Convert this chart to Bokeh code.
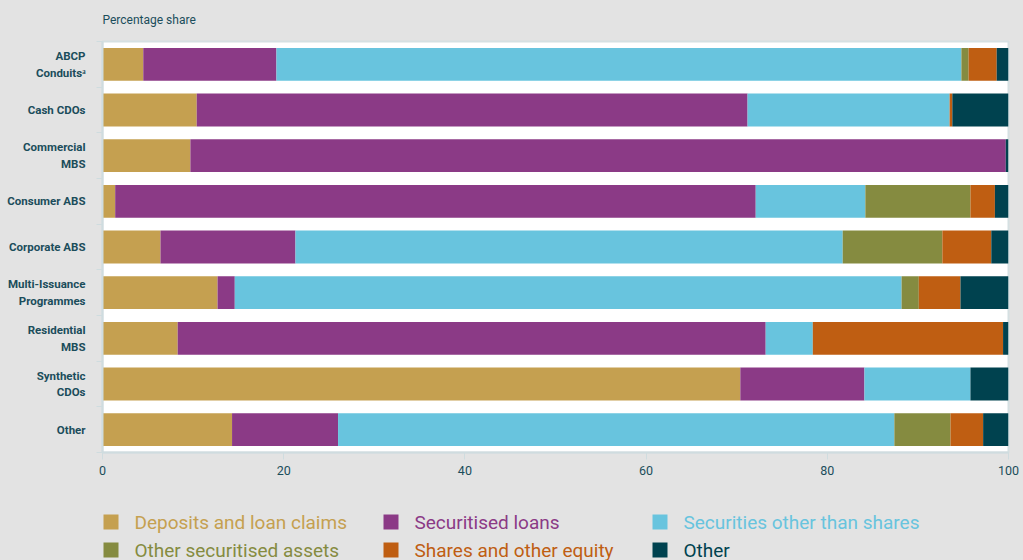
from bokeh.plotting import figure
from bokeh.models import ColumnDataSource, Range1d, FixedTicker
from bokeh.core.properties import value
from bokeh.layouts import column
from bokeh.embed import file_html
from bokeh.resources import INLINE

categories = ["ABCP\nConduits\u1d43", "Cash CDOs", "Commercial\nMBS", "Consumer ABS",
              "Corporate ABS", "Multi-Issuance\nProgrammes", "Residential\nMBS",
              "Synthetic\nCDOs", "Other"]

series = ["Deposits and loan claims", "Securitised loans", "Securities other than shares",
          "Other securitised assets", "Shares and other equity", "Other"]

deposits   = [4.5, 10.4, 9.7, 1.4, 6.4, 12.7, 8.3, 70.4, 14.3]
sec_loans  = [14.7, 60.8, 90.0, 70.7, 14.9, 1.9, 64.9, 13.7, 11.7]
securities = [75.6, 22.3, 0.0, 12.1, 60.4, 73.6, 5.2, 11.7, 61.4]
other_sec  = [0.8, 0.0, 0.0, 11.6, 11.0, 1.9, 0.0, 0.0, 6.2]
shares     = [3.1, 0.3, 0.0, 2.7, 5.4, 4.6, 21.0, 0.0, 3.6]
other      = [1.3, 6.2, 0.3, 1.5, 1.9, 5.3, 0.6, 4.2, 2.8]

colors = ["#c5a050", "#8b3a86", "#68c4de", "#858b40", "#bf5e12", "#00424f"]

x_ticks = [0, 20, 40, 60, 80, 100]

TEXT = "#1b4d5b"
LIGHT = "#cfdcdf"
BG = "#e3e3e3"
FONT = "Roboto"

keys = ["s0", "s1", "s2", "s3", "s4", "s5"]
n = len(categories)
data = dict(y=list(range(n)))
for k, vals in zip(keys, [deposits, sec_loans, securities, other_sec, shares, other]):
    data[k] = vals
source = ColumnDataSource(data)

BL, BR = 102, 15

p = figure(width=1023, height=488, x_range=Range1d(0, 100), y_range=Range1d(n - 0.5, -0.5),
           output_backend="svg", toolbar_location=None,
           min_border_left=BL, min_border_right=BR, min_border_top=41, min_border_bottom=36,
           background_fill_color="white", border_fill_color=BG,
           outline_line_color="#d5e0e2", outline_line_width=2)

p.hbar_stack(keys, y="y", height=0.72, color=colors, line_color=None, source=source)

p.title.text = "Percentage share"
p.title.align = "left"
p.title.vertical_align = "top"
p.title.text_font = FONT
p.title.text_font_size = "12px"
p.title.text_font_style = "normal"
p.title.text_color = TEXT
p.title.standoff = 25

p.xgrid.visible = False
p.ygrid.visible = False

xa = p.xaxis[0]
xa.ticker = FixedTicker(ticks=x_ticks)
xa.axis_line_color = LIGHT
xa.axis_line_width = 2
xa.major_tick_line_color = LIGHT
xa.major_tick_out = 7
xa.major_tick_in = 0
xa.minor_tick_line_color = None
xa.major_label_text_color = TEXT
xa.major_label_text_font = FONT
xa.major_label_text_font_size = "12.5px"
xa.major_label_standoff = 6

ya = p.yaxis[0]
ya.ticker = FixedTicker(ticks=list(range(n)), minor_ticks=[i - 0.5 for i in range(n + 1)])
ya.major_label_overrides = {i: c for i, c in enumerate(categories)}
ya.axis_line_color = LIGHT
ya.axis_line_width = 2
ya.major_tick_line_color = None
ya.major_tick_out = 0
ya.major_tick_in = 0
ya.minor_tick_line_color = LIGHT
ya.minor_tick_out = 6
ya.minor_tick_in = 0
ya.major_label_text_color = TEXT
ya.major_label_text_font = FONT
ya.major_label_text_font_size = "11.5px"
ya.major_label_text_font_style = "bold"
ya.major_label_standoff = 11

# legend strip (page-pixel coordinates, frame aligned with the main plot)
LW, LH = 1023, 72
lf = figure(width=LW, height=LH, x_range=Range1d(BL, LW - BR), y_range=Range1d(LH, 0),
            output_backend="svg", toolbar_location=None,
            min_border_left=BL, min_border_right=BR, min_border_top=0, min_border_bottom=0,
            background_fill_alpha=0, border_fill_color=BG, outline_line_color=None)
lf.axis.visible = False
lf.grid.visible = False

col_x = [103, 383, 652]
row_y = [33.5, 61.5]
leg = ColumnDataSource(dict(
    sx=[col_x[i % 3] + 7.5 for i in range(len(series))],
    tx=[col_x[i % 3] + 31 for i in range(len(series))],
    y=[row_y[i // 3] for i in range(len(series))],
    label=series, color=colors))
lf.rect(x="sx", y="y", width=15, height=15, width_units="screen", height_units="screen",
        fill_color="color", line_color=None, source=leg)
lf.text(x="tx", y="y", text="label", text_color="color", text_font=value(FONT),
        text_font_size="19px", text_baseline="middle", text_align="left", source=leg)

layout = column(p, lf, spacing=0, styles={"background-color": BG})
open("out.html", "w").write(file_html(layout, INLINE))
